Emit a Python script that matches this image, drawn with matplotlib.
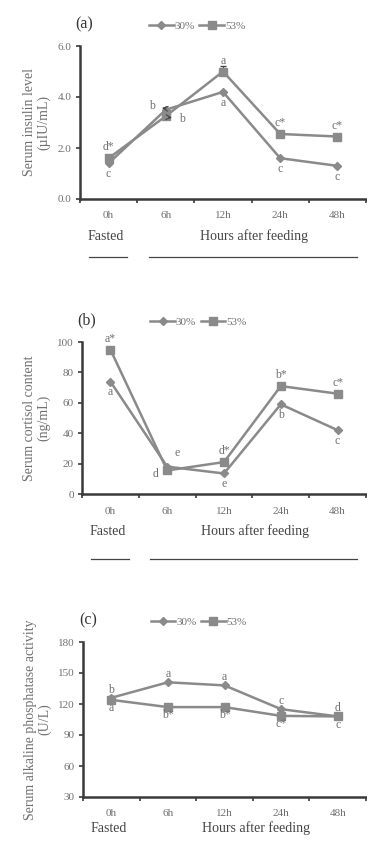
import matplotlib.pyplot as plt
import matplotlib.transforms as mtransforms

plt.rcParams['font.family'] = ['Liberation Serif', 'DejaVu Serif']

W, H = 367, 858

times = ['0h', '6h', '12h', '24h', '48h']

# (a) insulin
ins_30 = [1.4, 3.5, 4.2, 1.6, 1.3]
ins_53 = [1.6, 3.25, 5.0, 2.55, 2.45]
ins_err53 = [0, 0, 0.2, 0, 0]
ins_top = ['d*', '', 'a', 'c*', 'c*']
ins_bot = ['c', '', 'a', 'c', 'c']

# (b) cortisol
cor_30 = [74, 18, 13.5, 59, 42]
cor_53 = [95, 15.5, 21, 71, 66]
cor_top = ['a*', '', 'd*', 'b*', 'c*']
cor_bot = ['a', '', 'e', 'b', 'c']

# (c) alkaline phosphatase
alp_30 = [126, 141, 138, 115, 108]
alp_53 = [124, 117, 117, 108.5, 108]
alp_top = ['b', 'a', 'a', 'c', 'd']
alp_bot = ['a', 'b*', 'b*', 'c*', 'c']

LINE = '#8a8a8a'
TXT = '#707070'
AX = '#3a3a3a'

fig = plt.figure(figsize=(W / 100, H / 100), dpi=100)


def make_ax(top_px, bot_px, left_px=81):
    return fig.add_axes([left_px / W, 1 - bot_px / H, (W - 1 - left_px) / W, (bot_px - top_px) / H])


def style(ax, ylim, yticks, fmt, ylabel, tag):
    x = range(len(times))
    ax.set_xlim(-0.5, 4.5)
    ax.set_ylim(*ylim)
    ax.set_xticks(list(x))
    ax.set_xticklabels(times, fontsize=8, color=TXT)
    ax.set_xticks([i - 0.5 for i in range(6)], minor=True)
    ax.tick_params(axis='x', which='major', length=0, pad=9)
    ax.tick_params(axis='x', which='minor', length=3, width=1.2, color=AX)
    ax.set_yticks(yticks)
    ax.set_yticklabels([fmt.format(v) for v in yticks], fontsize=8, color=TXT)
    ax.tick_params(axis='y', length=3, width=1.2, color=AX, pad=3)
    for s in ['top', 'right']:
        ax.spines[s].set_visible(False)
    for s in ['left', 'bottom']:
        ax.spines[s].set_linewidth(1.8)
        ax.spines[s].set_color(AX)
    ax.set_ylabel(ylabel, fontsize=10, color=TXT, labelpad=5, linespacing=1.1)
    ax.text(-0.015, 1.14, tag, transform=ax.transAxes, fontsize=11.5, color='#333333',
            ha='left', va='center')
    ax.legend(loc='center', bbox_to_anchor=(0.41, 1.13), ncol=2, frameon=False,
              fontsize=8, handlelength=2.2, columnspacing=0.4, handletextpad=0.1,
              labelcolor=TXT)


def series(ax, y30, y53, err53=None):
    x = range(len(times))
    ax.plot(x, y30, color=LINE, lw=1.8, marker='D', ms=4.5, mfc=LINE, mec=LINE,
            label='30%', clip_on=False, zorder=3)
    ax.plot(x, y53, color=LINE, lw=1.8, marker='s', ms=6, mfc=LINE, mec=LINE,
            label='53%', clip_on=False, zorder=3)
    if err53 is not None:
        ax.errorbar(x, y53, yerr=[[0] * len(err53), err53], fmt='none', ecolor='#444444',
                    elinewidth=0.8, capsize=2, zorder=2)


def letters(ax, tops, bots, y30, y53, off):
    for i, (t, b) in enumerate(zip(tops, bots)):
        hi = max(y30[i], y53[i])
        lo = min(y30[i], y53[i])
        if t:
            ax.text(i, hi + off, t, ha='center', va='center', fontsize=8.5, color=TXT)
        if b:
            ax.text(i, lo - off, b, ha='center', va='center', fontsize=8.5, color=TXT)


def below(ax, line_y=None, text_y=-0.245):
    tr = mtransforms.blended_transform_factory(ax.transData, ax.transAxes)
    ax.text(-0.05, text_y, 'Fasted', transform=tr, ha='center', va='center',
            fontsize=10, color='#444444')
    ax.text(2.55, text_y, 'Hours after feeding', transform=tr, ha='center', va='center',
            fontsize=10, color='#444444')
    if line_y is not None:
        ax.plot([0.03, 0.165], [line_y, line_y], transform=ax.transAxes, color='#444444',
                lw=0.9, clip_on=False)
        ax.plot([0.24, 0.97], [line_y, line_y], transform=ax.transAxes, color='#444444',
                lw=0.9, clip_on=False)


# ---- (a)
axa = make_ax(46, 199, 80)
series(axa, ins_30, ins_53, ins_err53)
style(axa, (0, 6), [0, 2, 4, 6], '{:.1f}', 'Serum insulin level\n(\u00b5IU/mL)', '(a)')
letters(axa, ins_top, ins_bot, ins_30, ins_53, 0.42)
axa.annotate('b', xy=(1.0, ins_30[1] + 0.05), xytext=(0.76, ins_30[1] + 0.13),
             fontsize=8.5, color=TXT, ha='center', va='center',
             arrowprops=dict(arrowstyle='<-', color='#444444', lw=0.8, shrinkA=3, shrinkB=0))
axa.annotate('b', xy=(1.05, ins_53[1] - 0.05), xytext=(1.28, ins_53[1] - 0.1),
             fontsize=8.5, color=TXT, ha='center', va='center',
             arrowprops=dict(arrowstyle='<-', color='#444444', lw=0.8, shrinkA=3, shrinkB=0))
below(axa, line_y=-0.38)

# ---- (b)
axb = make_ax(342, 494, 82)
series(axb, cor_30, cor_53)
style(axb, (0, 100), [0, 20, 40, 60, 80, 100], '{:.0f}',
      'Serum cortisol content\n(ng/mL)', '(b)')
letters(axb, cor_top, cor_bot, cor_30, cor_53, 7)
axb.text(1.17, 27, 'e', ha='center', va='center', fontsize=8.5, color=TXT)
axb.text(0.8, 13, 'd', ha='center', va='center', fontsize=8.5, color=TXT)
below(axb, line_y=-0.43)

# ---- (c)
axc = make_ax(642, 797, 83)
series(axc, alp_30, alp_53)
style(axc, (30, 180), [30, 60, 90, 120, 150, 180], '{:.0f}',
      'Serum alkaline phosphatase activity\n(U/L)', '(c)')
letters(axc, alp_top, alp_bot, alp_30, alp_53, 8)
below(axc, text_y=-0.2)

fig.savefig('out.png', dpi=100)
